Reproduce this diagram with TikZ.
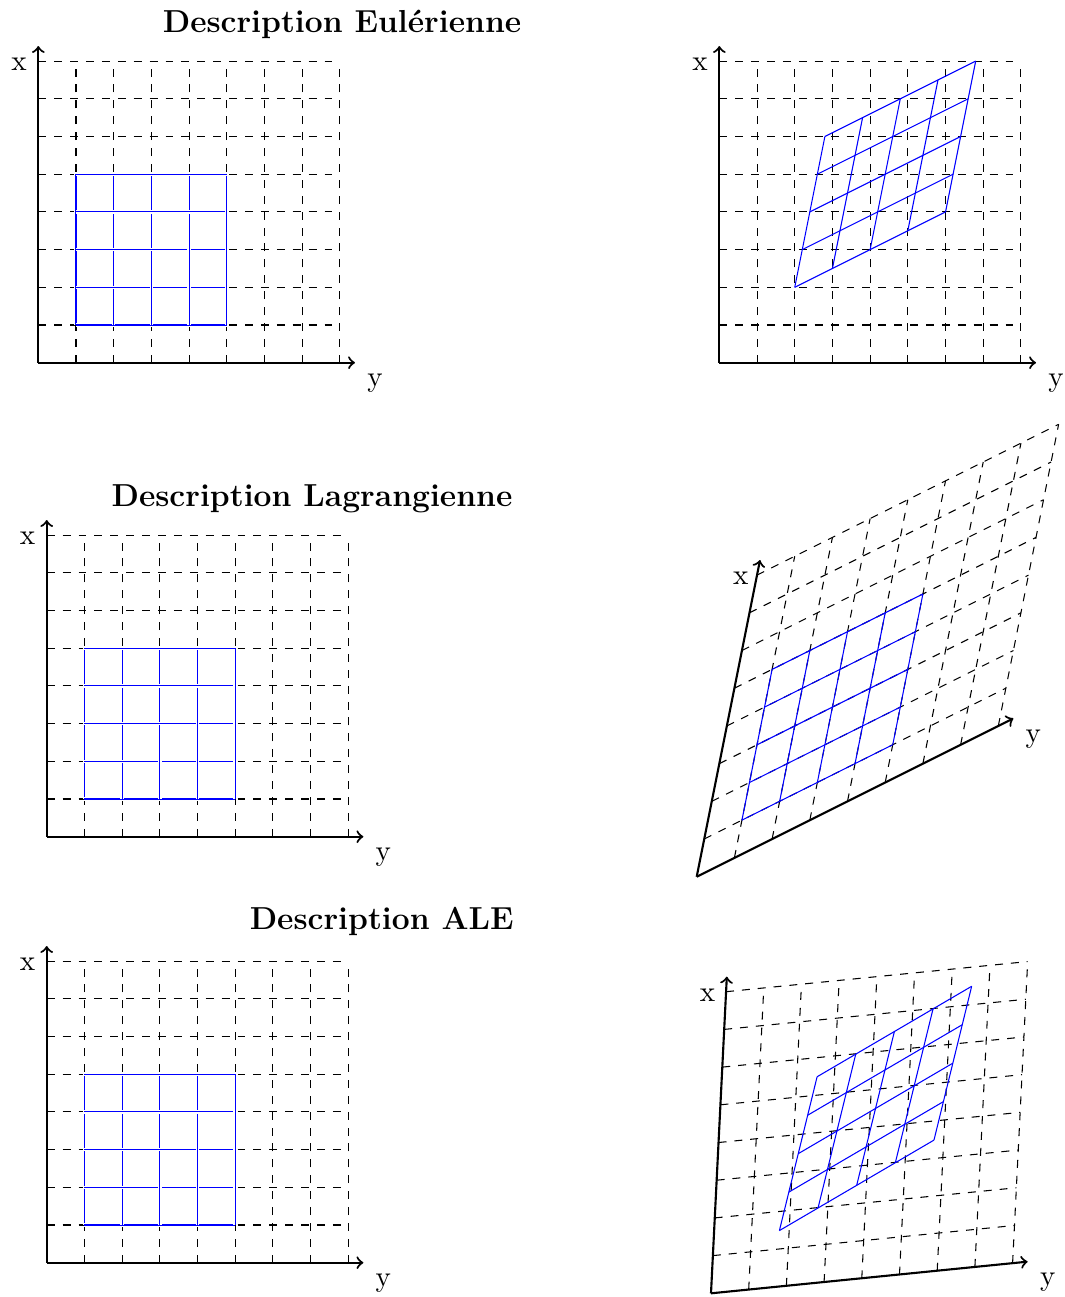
\documentclass[tikz,border=0pt]{standalone}
\usepackage{fontspec}
\newcommand\eulgrid{\foreach \k in {1,...,8}{\draw[gridline] (0,\k) -- (8,\k); \draw[gridline] (\k,0) -- (\k,8);}}
\newcommand\sqmesh[1][]{\foreach \k in {0,...,4}{\draw[meshline,#1] (\k,0) -- (\k,4); \draw[meshline,#1] (0,\k) -- (4,\k);}}
\newcommand\myaxes[1]{\coordinate (o#1) at (0,0); \coordinate (xt#1) at (0,8.4); \coordinate (yt#1) at (8.4,0);
  \draw[axisline] (o#1) -- (xt#1); \draw[axisline] (o#1) -- (yt#1);}
\begin{document}
\begin{tikzpicture}[x=0.5cm,y=0.5cm,
  axisline/.style={thick,->},
  gridline/.style={dashed},
  meshline/.style={blue},
  meshcover/.style={preaction={draw=white,line width=1.3pt}},
  lab/.style={inner sep=0pt,font=\fontsize{10.95}{13.6}\selectfont},
  ttl/.style={font=\large\bfseries,anchor=base,inner sep=0pt}]
\useasboundingbox (0,0) rectangle (28.249,-34.403);

% titles
\node[ttl] (t1) at (9.072,-0.873) {Description Eulérienne};
\node[ttl] (t2) at (8.276,-13.422) {Description Lagrangienne};
\node[ttl] (t3) at (10.125,-24.650) {Description ALE};

% top left
\begin{scope}[shift={(1.016,-9.621)}]
  \eulgrid
  \myaxes{1}
  \begin{scope}[shift={(1,1)}] \sqmesh[meshcover] \end{scope}
\end{scope}

% top right
\begin{scope}[shift={(19.080,-9.621)}]
  \eulgrid
  \myaxes{2}
  \begin{scope}[shift={(2,2)},cm={1,0.5,0.2,1,(0,0)}] \sqmesh \end{scope}
\end{scope}

% middle left
\begin{scope}[shift={(1.239,-22.194)}]
  \eulgrid
  \myaxes{3}
  \begin{scope}[shift={(1,1)}] \sqmesh[meshcover] \end{scope}
\end{scope}

% middle right
\begin{scope}[shift={(18.480,-23.255)},cm={1,0.5,0.2,1,(0,0)}]
  \eulgrid
  \myaxes{4}
  \begin{scope}[shift={(1,1)}] \sqmesh \end{scope}
\end{scope}

% bottom left
\begin{scope}[shift={(1.239,-33.493)}]
  \eulgrid
  \myaxes{5}
  \begin{scope}[shift={(1,1)}] \sqmesh[meshcover] \end{scope}
\end{scope}

% bottom right
\begin{scope}[shift={(18.859,-34.305)},cm={1,0.1,0.05,1,(0,0)}]
  \eulgrid
  \myaxes{6}
  \begin{scope}[shift={(1.74,1.49)},cm={1,0.5,0.2,1,(0,0)}] \sqmesh \end{scope}
\end{scope}

% axis labels
\foreach \n in {1,...,6}{
  \node[lab] (xl\n) at ([shift={(-0.51,-0.485)}]xt\n) {x};
  \node[lab] (yl\n) at ([shift={(0.53,-0.54)}]yt\n) {y};
}
\end{tikzpicture}
\end{document}
